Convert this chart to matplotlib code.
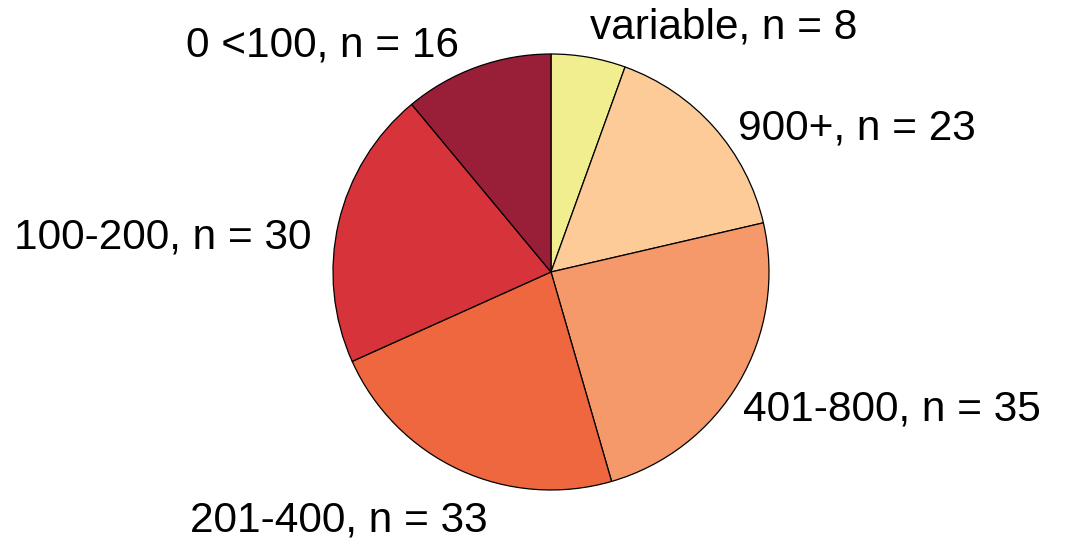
import matplotlib
matplotlib.use("Agg")
import matplotlib.pyplot as plt

# slices, clockwise from the top
categories = ["variable", "900+", "401-800", "201-400", "100-200", "0 <100"]
counts = [8, 23, 35, 33, 30, 16]
colors = ["#f0ee8e", "#fccb98", "#f5996b", "#ee673f", "#d7333a", "#981f37"]

labels = [f"{c}, n = {n}" for c, n in zip(categories, counts)]

# where each label sits, in pie radius units, and how it is aligned
label_pos = [(0.18, 1.12), (0.86, 0.66), (0.88, -0.63),
             (-0.29, -1.14), (-1.10, 0.16), (-0.42, 1.04)]
label_ha = ["left", "left", "left", "right", "right", "right"]

plt.rcParams["font.family"] = ["Liberation Sans", "DejaVu Sans"]

fig = plt.figure(figsize=(10.76, 5.45), dpi=100)
# square axes so the pie sits where the reference has it
cx, cy, r = 551, 273, 218
ax = fig.add_axes([(cx - r) / 1076, (cy - r) / 545, 2 * r / 1076, 2 * r / 545])

wedges, texts = ax.pie(counts, labels=labels, colors=colors,
                       startangle=90, counterclock=False,
                       wedgeprops=dict(edgecolor="black", linewidth=0.9),
                       textprops=dict(fontsize=30.5))
for t, pos, ha in zip(texts, label_pos, label_ha):
    t.set_position(pos)
    t.set_ha(ha)
    t.set_va("center")

ax.set_xlim(-1, 1)
ax.set_ylim(-1, 1)
ax.axis("off")

fig.savefig("out.png", dpi=100)
